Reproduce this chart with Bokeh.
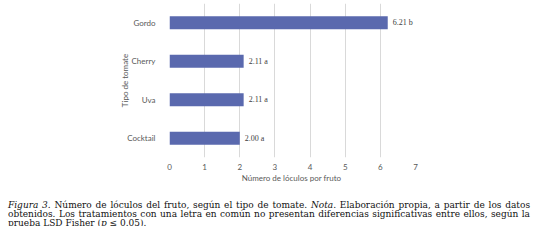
from bokeh.plotting import figure
from bokeh.layouts import column
from bokeh.models import ColumnDataSource, LabelSet, FixedTicker, FactorRange, Div
from bokeh.embed import file_html
from bokeh.resources import INLINE

# Tomato types, top to bottom, with mean locule count and LSD letter
tipos = ["Gordo", "Cherry", "Uva", "Cocktail"]
loculos = [6.21, 2.11, 2.11, 2.00]
letras = ["b", "a", "a", "a"]
x_ticks = [0, 1, 2, 3, 4, 5, 6, 7]

BAR = "#5A69AE"
GRAY = "#595959"
SANS = "Lato"
SERIF = "DejaVu Serif"

W = 540
H_CHART = 190
H_CAP = 36
LEFT, RIGHT, TOP, BOTTOM = 169, 125, 3, 33

source = ColumnDataSource(dict(
    tipo=tipos,
    valor=loculos,
    etiqueta=[f"{v:.2f} {l}" for v, l in zip(loculos, letras)],
))

p = figure(
    width=W, height=H_CHART,
    x_range=(0, 7),
    y_range=FactorRange(factors=list(reversed(tipos))),
    output_backend="svg", toolbar_location=None,
    min_border_left=LEFT, min_border_right=RIGHT,
    min_border_top=TOP, min_border_bottom=BOTTOM,
    margin=(0, 0, 0, 0),
)
p.outline_line_color = None
p.background_fill_color = "white"
p.border_fill_color = "white"

p.hbar(y="tipo", right="valor", height=0.34, left=0, source=source,
       fill_color=BAR, line_color=None)

p.add_layout(LabelSet(x="valor", y="tipo", text="etiqueta", source=source,
                      x_offset=5, text_baseline="middle", text_font=SANS,
                      text_font_size="8px", text_color="#404040"))

# horizontal axis
xa = p.xaxis[0]
xa.ticker = FixedTicker(ticks=x_ticks)
xa.axis_line_color = None
xa.major_tick_line_color = None
xa.major_tick_out = 0
xa.minor_tick_line_color = None
xa.major_label_text_font = SANS
xa.major_label_text_font_size = "8px"
xa.major_label_text_color = GRAY
xa.major_label_standoff = 6
xa.axis_label = "Número  de lóculos por fruto"
xa.axis_label_text_font = SANS
xa.axis_label_text_font_size = "8px"
xa.axis_label_text_font_style = "normal"
xa.axis_label_text_color = GRAY
xa.axis_label_standoff = 0

# vertical axis
ya = p.yaxis[0]
ya.axis_line_color = None
ya.major_tick_line_color = None
ya.major_tick_out = 0
ya.minor_tick_line_color = None
ya.major_label_text_font = SANS
ya.major_label_text_font_size = "8px"
ya.major_label_text_color = GRAY
ya.major_label_text_align = "center"
ya.major_label_standoff = 14
ya.axis_label = "Tipo de tomate"
ya.axis_label_text_font = SANS
ya.axis_label_text_font_size = "8px"
ya.axis_label_text_font_style = "normal"
ya.axis_label_text_color = GRAY
ya.axis_label_standoff = -6

p.xgrid.ticker = FixedTicker(ticks=x_ticks)
p.xgrid.grid_line_color = "#d9d9d9"
p.ygrid.grid_line_color = None

# figure caption, justified, last line cut by the strip's bottom edge
line_css = ("text-align:justify;text-align-last:justify;"
            "white-space:nowrap;height:9px;")
caption_html = (
    f'<div style="width:522px;margin-left:8px;padding-top:11px;'
    f'font-family:\'{SERIF}\';font-size:9px;line-height:9px;color:#111;">'
    f'<div style="{line_css}"><i>Figura 3.</i> Número de lóculos del fruto, '
    f'según el tipo de tomate. <i>Nota</i>. Elaboración propia, a partir de los datos</div>'
    f'<div style="{line_css}">obtenidos. Los tratamientos con una letra en común '
    f'no presentan diferencias significativas entre ellos, según la</div>'
    f'<div style="white-space:nowrap;height:9px;">prueba LSD Fisher (<i>p</i> ≤ 0.05).</div>'
    f'</div>'
)
cap = Div(text=caption_html, width=W, height=H_CAP, margin=(0, 0, 0, 0),
          styles={"overflow": "hidden", "background": "white"})

layout = column(p, cap, spacing=0)
open("out.html", "w").write(file_html(layout, INLINE))
